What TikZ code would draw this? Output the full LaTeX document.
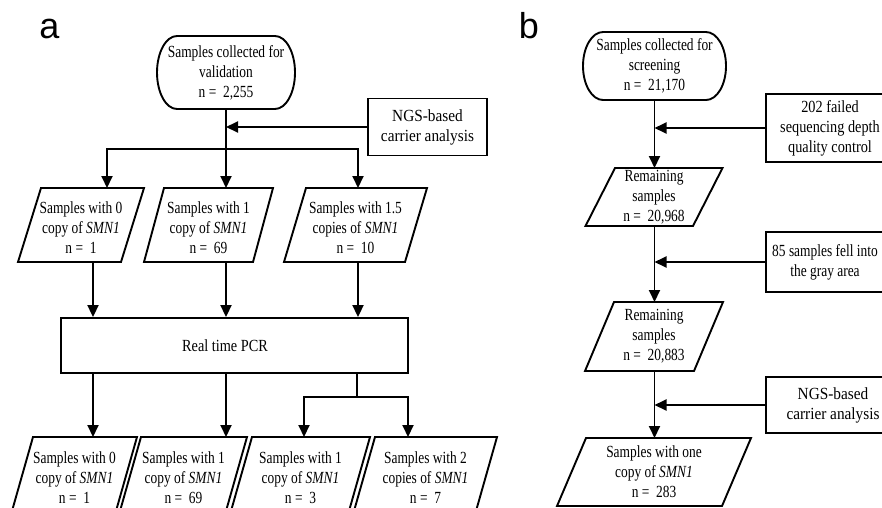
\documentclass[tikz,border=0pt]{standalone}
\usepackage{fontspec}
\setmainfont{Liberation Serif}[FakeStretch=0.79]
\newfontfamily\sidefont{Liberation Serif}[FakeStretch=0.84]
\newfontfamily\ngsfont{Liberation Serif}[FakeStretch=0.9]
\newfontfamily\panelfont{Liberation Sans}
\usetikzlibrary{arrows.meta}
\newcommand\paradraw[2]{\draw[shapeline] ([xshift=#2]#1.north west) -- ([xshift=#2]#1.north east) -- ([xshift=-#2]#1.south east) -- ([xshift=-#2]#1.south west) -- cycle;}
\newcommand\stadiumdraw[3]{\draw[shapeline] ([xshift=#2]#1.north west) -- ([xshift=-#2]#1.north east) arc[start angle=90,end angle=-90,x radius=#2,y radius=#3] -- ([xshift=#2]#1.south west) arc[start angle=270,end angle=90,x radius=#2,y radius=#3] -- cycle;}
\begin{document}
\begin{tikzpicture}[x=1pt,y=-1pt,line width=1.9pt,
  shapeline/.style={line width=1.9pt,line join=miter},
  arr/.style={-{Triangle[length=12pt,width=11pt]}},
  tnode/.style={align=center,inner sep=0pt,outer sep=0pt,font=\fontsize{17}{20}\selectfont},
  box/.style={draw,line width=1.9pt,align=center,inner sep=0pt,font=\sidefont\fontsize{17}{20}\selectfont},
  ngs/.style={font=\ngsfont\fontsize{17}{20}\selectfont},
  panel/.style={anchor=base,inner sep=0pt,font=\panelfont\fontsize{36}{36}\selectfont}]
\useasboundingbox (0,0) rectangle (882,507);
\clip (0,0) rectangle (882,507);
% ---------- panel a ----------
\node[panel] (la) at (49.5,38.5) {a};
\node[tnode,minimum width=138pt,minimum height=73pt] (sA) at (226,72.5) {Samples collected for\\validation\\n = ~2,255};
\stadiumdraw{sA}{20pt}{36.5pt}
\node[box,ngs,minimum width=119pt,minimum height=57pt] (ngsA) at (427.5,127) {NGS-based\\carrier analysis};
\node[tnode,minimum width=103pt,minimum height=74pt] (P1) at (81,225) {\rule{0pt}{17pt}Samples with 0\\copy of \textit{SMN1}\\n = ~1};
\paradraw{P1}{11.5pt}
\node[tnode,minimum width=109pt,minimum height=74pt] (P2) at (208.5,225) {\rule{0pt}{17pt}Samples with 1\\copy of \textit{SMN1}\\n = ~69};
\paradraw{P2}{10pt}
\node[tnode,minimum width=121pt,minimum height=74pt] (P3) at (355.5,225) {\rule{0pt}{17pt}Samples with 1.5\\copies of \textit{SMN1}\\n = ~10};
\paradraw{P3}{11pt}
\node[box,minimum width=347pt,minimum height=55pt] (PCR) at (234.5,345.5) {Real time PCR\hspace*{19pt}};
\node[tnode,minimum width=104pt,minimum height=74pt] (Q1) at (74.5,474) {\rule{0pt}{19pt}Samples with 0\\copy of \textit{SMN1}\\n = ~1};
\paradraw{Q1}{10.5pt}
\node[tnode,minimum width=106pt,minimum height=74pt] (Q2) at (183.5,474) {\rule{0pt}{19pt}Samples with 1\\copy of \textit{SMN1}\\n = ~69};
\paradraw{Q2}{10.5pt}
\node[tnode,minimum width=118pt,minimum height=74pt] (Q3) at (300.5,474) {\rule{0pt}{19pt}Samples with 1\\copy of \textit{SMN1}\\n = ~3};
\paradraw{Q3}{10.5pt}
\node[tnode,minimum width=122pt,minimum height=74pt] (Q4) at (425.5,474) {\rule{0pt}{19pt}Samples with 2\\copies of \textit{SMN1}\\n = ~7};
\paradraw{Q4}{10.5pt}
\coordinate (yA) at (0,149);
\coordinate (a1) at (107,149);
\coordinate (a3) at (358,149);
\coordinate (d1) at (93,0);
\coordinate (c3) at (357,397);
\coordinate (c3l) at (304,397);
\coordinate (c3r) at (408,397);
\draw[arr] (sA.south) -- (P2.north -| sA.south);
\draw[arr] (sA.south |- yA) -| (P1.north -| a1);
\draw[arr] (sA.south |- yA) -| (P3.north -| a3);
\draw[arr] (ngsA.west) -- (ngsA.west -| sA.south);
\draw[arr] (P1.south -| d1) -- (PCR.north -| d1);
\draw[arr] (P2.south -| sA.south) -- (PCR.north -| sA.south);
\draw[arr] (P3.south -| a3) -- (PCR.north -| a3);
\draw[arr] (PCR.south -| d1) -- (Q1.north -| d1);
\draw[arr] (PCR.south -| sA.south) -- (Q2.north -| sA.south);
\draw (PCR.south -| c3) -- (c3);
\draw[arr] (c3) -| (Q3.north -| c3l);
\draw[arr] (c3) -| (Q4.north -| c3r);
% ---------- panel b ----------
\node[panel] (lb) at (529,38.5) {b};
\node[tnode,minimum width=143pt,minimum height=68pt] (sB) at (654.5,66) {Samples collected for\\screening\\n = ~21,170};
\stadiumdraw{sB}{20pt}{34pt}
\node[box,minimum width=128pt,minimum height=68pt] (fb1) at (830,128) {202 failed\\sequencing depth\\quality control};
\node[tnode,minimum width=107.5pt,minimum height=58pt] (Pb1) at (654,197) {Remaining\\samples\\n = ~20,968};
\paradraw{Pb1}{14.75pt}
\node[box,minimum width=118pt,minimum height=60pt,font=\fontsize{17}{20}\selectfont] (fb2) at (825,262) {85 samples fell into\\the gray area};
\node[tnode,minimum width=109pt,minimum height=69pt] (Pb2) at (654,336.5) {Remaining\\samples\\n = ~20,883};
\paradraw{Pb2}{14.5pt}
\node[box,ngs,minimum width=134pt,minimum height=56pt] (fb3) at (833,405) {NGS-based\\carrier analysis};
\node[tnode,minimum width=165pt,minimum height=68pt] (Pb3) at (654,472) {Samples with one\\copy of \textit{SMN1}\\n = ~283};
\paradraw{Pb3}{14.5pt}
\draw[arr] (sB.south) -- (Pb1.north -| sB.south);
\draw[arr] (Pb1.south -| sB.south) -- (Pb2.north -| sB.south);
\draw[arr] (Pb2.south -| sB.south) -- (Pb3.north -| sB.south);
\draw[arr] (fb1.west) -- (fb1.west -| sB.south);
\draw[arr] (fb2.west) -- (fb2.west -| sB.south);
\draw[arr] (fb3.west) -- (fb3.west -| sB.south);
\end{tikzpicture}
\end{document}
